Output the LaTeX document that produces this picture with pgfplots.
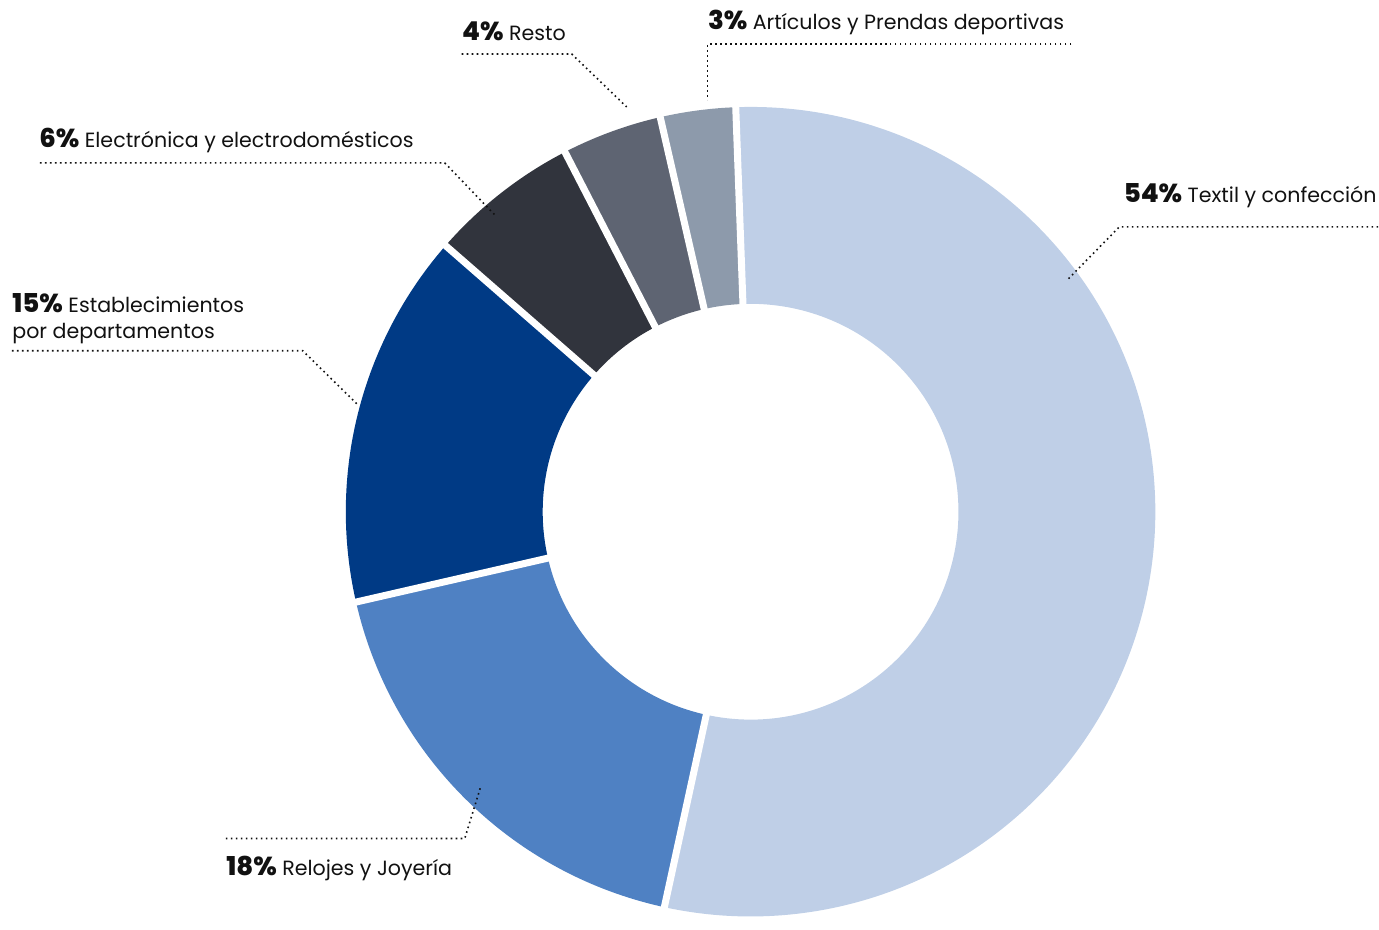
\documentclass[border=0pt]{standalone}
\usepackage{pgfplots}
\pgfplotsset{compat=1.18}
\usepackage{pgfplotstable}
\usepackage{fontspec}
\setmainfont{Poppins}[BoldFont={Poppins ExtraBold}]
\definecolor{cTextil}{HTML}{BFCFE7}
\definecolor{cRelojes}{HTML}{4F81C3}
\definecolor{cEstab}{HTML}{003A85}
\definecolor{cElectro}{HTML}{31343D}
\definecolor{cResto}{HTML}{5E6472}
\definecolor{cArt}{HTML}{8D9AAB}
\definecolor{txt}{HTML}{111111}

\pgfplotstableread{
val
54
18
15
6
4
3
}\datatable

% cumulative angles (clockwise from 92.1 deg)
\def\startangle{92.1}
\pgfmathsetmacro{\aO}{\startangle}
\pgfplotstablegetelem{0}{val}\of\datatable \pgfmathsetmacro{\aA}{\aO-3.6*\pgfplotsretval}
\pgfplotstablegetelem{1}{val}\of\datatable \pgfmathsetmacro{\aB}{\aA-3.6*\pgfplotsretval}
\pgfplotstablegetelem{2}{val}\of\datatable \pgfmathsetmacro{\aC}{\aB-3.6*\pgfplotsretval}
\pgfplotstablegetelem{3}{val}\of\datatable \pgfmathsetmacro{\aD}{\aC-3.6*\pgfplotsretval}
\pgfplotstablegetelem{4}{val}\of\datatable \pgfmathsetmacro{\aE}{\aD-3.6*\pgfplotsretval}
\pgfplotstablegetelem{5}{val}\of\datatable \pgfmathsetmacro{\aF}{\aE-3.6*\pgfplotsretval}

\def\Ro{202.5pt}
\def\Ri{104pt}
\def\Rd{98.5pt}

\newcommand{\donutwedge}[3]{%
  \fill[#1] (axis cs:751,404) ++(#2:\Ro) arc[start angle=#2, end angle=#3, radius=\Ro]
    -- ++(#3:-\Rd) arc[start angle=#3, end angle=#2, radius=\Ri] -- cycle;}
\newcommand{\donutgap}[1]{%
  \draw[white, line width=3.5pt] (axis cs:751,404) ++(#1:95pt) -- ++(#1:112pt);}
\newcommand{\pct}[1]{{\fontsize{13}{13}\selectfont\bfseries #1}}

\tikzset{leader/.style={line width=0.8pt, dash pattern=on 0.8pt off 1.7pt, color=txt},
  lab/.style={anchor=base west, inner sep=0pt, font=\fontsize{10.3}{13}\selectfont, text=txt}}

\begin{document}
\begin{tikzpicture}
\begin{axis}[x=0.5pt, y=0.5pt, xmin=0, xmax=1379, ymin=0, ymax=916,
  hide axis, clip=false, scale only axis]
\path (axis cs:0,0) rectangle (axis cs:1379,916);
\donutwedge{cTextil}{\aO}{\aA}
\donutwedge{cRelojes}{\aA}{\aB}
\donutwedge{cEstab}{\aB}{\aC}
\donutwedge{cElectro}{\aC}{\aD}
\donutwedge{cResto}{\aD}{\aE}
\donutwedge{cArt}{\aE}{\aF}
\donutgap{\aO}\donutgap{\aA}\donutgap{\aB}\donutgap{\aC}\donutgap{\aD}\donutgap{\aE}

% leaders
\draw[leader] (axis cs:1379,689) -- (axis cs:1120,689) -- (axis cs:1068,636);
\draw[leader] (axis cs:1072,872) -- (axis cs:708,872) -- (axis cs:708,816);
\draw[leader] (axis cs:462,862) -- (axis cs:572,862) -- (axis cs:627,809);
\draw[leader] (axis cs:40,753) -- (axis cs:445,753) -- (axis cs:496,700);
\draw[leader] (axis cs:12,565) -- (axis cs:303,565) -- (axis cs:357,512);
\draw[leader] (axis cs:226,77) -- (axis cs:465,77) -- (axis cs:481,129);

% labels
\node[lab] at (axis cs:1124,713) {\pct{54\%} Textil y confección};
\node[lab] at (axis cs:708,886) {\pct{3\%} Artículos y Prendas deportivas};
\node[lab] at (axis cs:462,875) {\pct{4\%} Resto};
\node[lab] at (axis cs:39,768) {\pct{6\%} Electrónica y electrodomésticos};
\node[lab] at (axis cs:12,603) {\pct{15\%} Establecimientos};
\node[lab] at (axis cs:12,577) {por departamentos};
\node[lab] at (axis cs:226,40) {\pct{18\%} Relojes y Joyería};
\end{axis}
\end{tikzpicture}
\end{document}
